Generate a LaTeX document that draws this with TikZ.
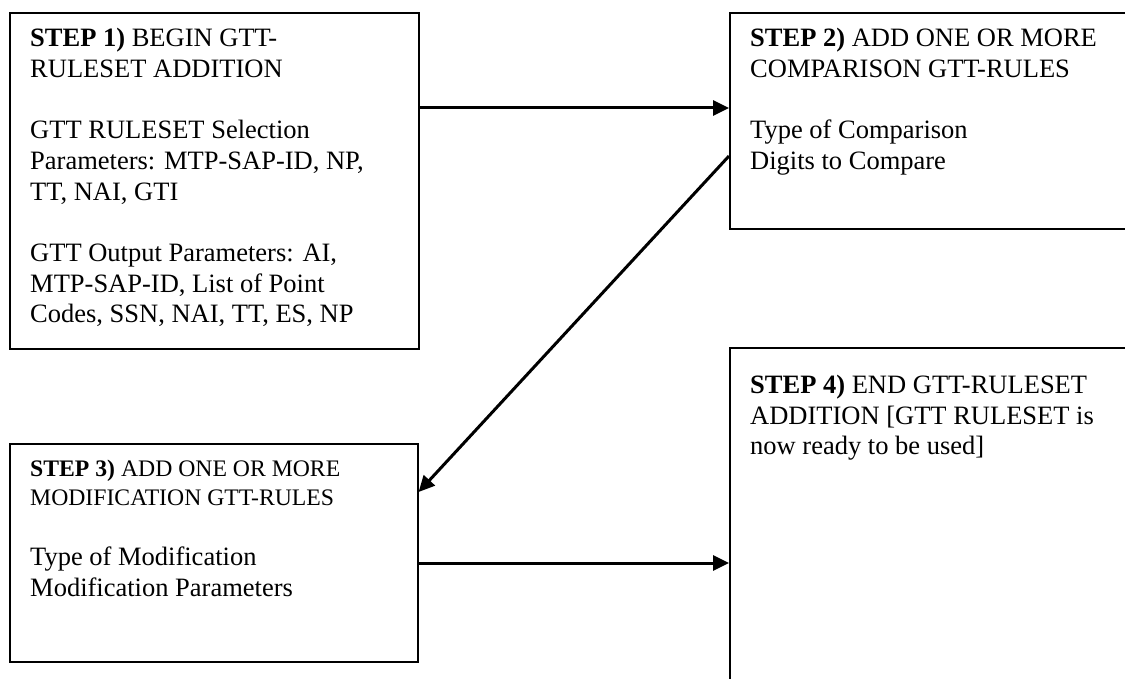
\documentclass[tikz,border=0pt]{standalone}
\usepackage{fontspec}
\setmainfont{Liberation Serif}
\usetikzlibrary{arrows.meta,calc}
\begin{document}
\begin{tikzpicture}[x=1pt,y=-1pt,
  stepbox/.style={draw=black,line width=1.6pt,rectangle,inner sep=0pt,anchor=north west},
  steptext/.style={anchor=north west,inner sep=0pt,align=left,text=black,
    font=\fontsize{26.5}{30.7}\selectfont},
  smalltext/.style={steptext,font=\fontsize{23.7}{29}\selectfont},
  flow/.style={draw=black,line width=3pt,-{Triangle[length=16pt,width=15pt]}}]
\useasboundingbox (0,0) rectangle (1125,679);
\clip (0,0) rectangle (1125,679);
\fill[white] (0,0) rectangle (1125,679);

% the four step boxes (boxes 2 and 4 run past the right and bottom edges)
\node[stepbox,minimum width=409pt,minimum height=336pt] (b1) at (9,12) {};
\node[stepbox,minimum width=410pt,minimum height=216pt] (b2) at (729,12) {};
\node[stepbox,minimum width=408pt,minimum height=218pt] (b3) at (9,443) {};
\node[stepbox,minimum width=410pt,minimum height=345pt] (b4) at (729,347) {};

% box contents
\node[steptext] (t1) at ($(b1.north west)+(21,16)$)
  {\textbf{STEP 1)} BEGIN GTT-\\RULESET ADDITION\\[30.7pt]
   GTT RULESET Selection\\Parameters: MTP-SAP-ID, NP,\\TT, NAI, GTI\\[30.7pt]
   GTT Output Parameters: AI,\\MTP-SAP-ID, List of Point\\Codes, SSN, NAI, TT, ES, NP};
\node[steptext] (t2) at ($(b2.north west)+(21,16)$)
  {\textbf{STEP 2)} ADD ONE OR MORE\\COMPARISON GTT-RULES\\[30.7pt]
   Type of Comparison\\Digits to Compare};
\node[smalltext] (t3) at ($(b3.north west)+(21,17)$)
  {\textbf{STEP 3)} ADD ONE OR MORE\\MODIFICATION GTT-RULES};
\node[steptext] (t3b) at ($(b3.north west)+(21,104)$)
  {Type of Modification\\Modification Parameters};
\node[steptext] (t4) at ($(b4.north west)+(21,28)$)
  {\textbf{STEP 4)} END GTT-RULESET\\ADDITION [GTT RULESET is\\now ready to be used]};

% connectors
\coordinate (c1) at ($(b1.north east)+(0,96)$);
\coordinate (c2) at ($(b2.north west)+(0,144)$);
\coordinate (c3) at ($(b3.north east)+(0,49)$);
\coordinate (c4) at ($(b3.north east)+(0,120)$);
\draw[flow] (c1) -- (c1 -| b2.west);
\draw[flow] (c2) -- (c3);
\draw[flow] (c4) -- (c4 -| b4.west);
\end{tikzpicture}
\end{document}
